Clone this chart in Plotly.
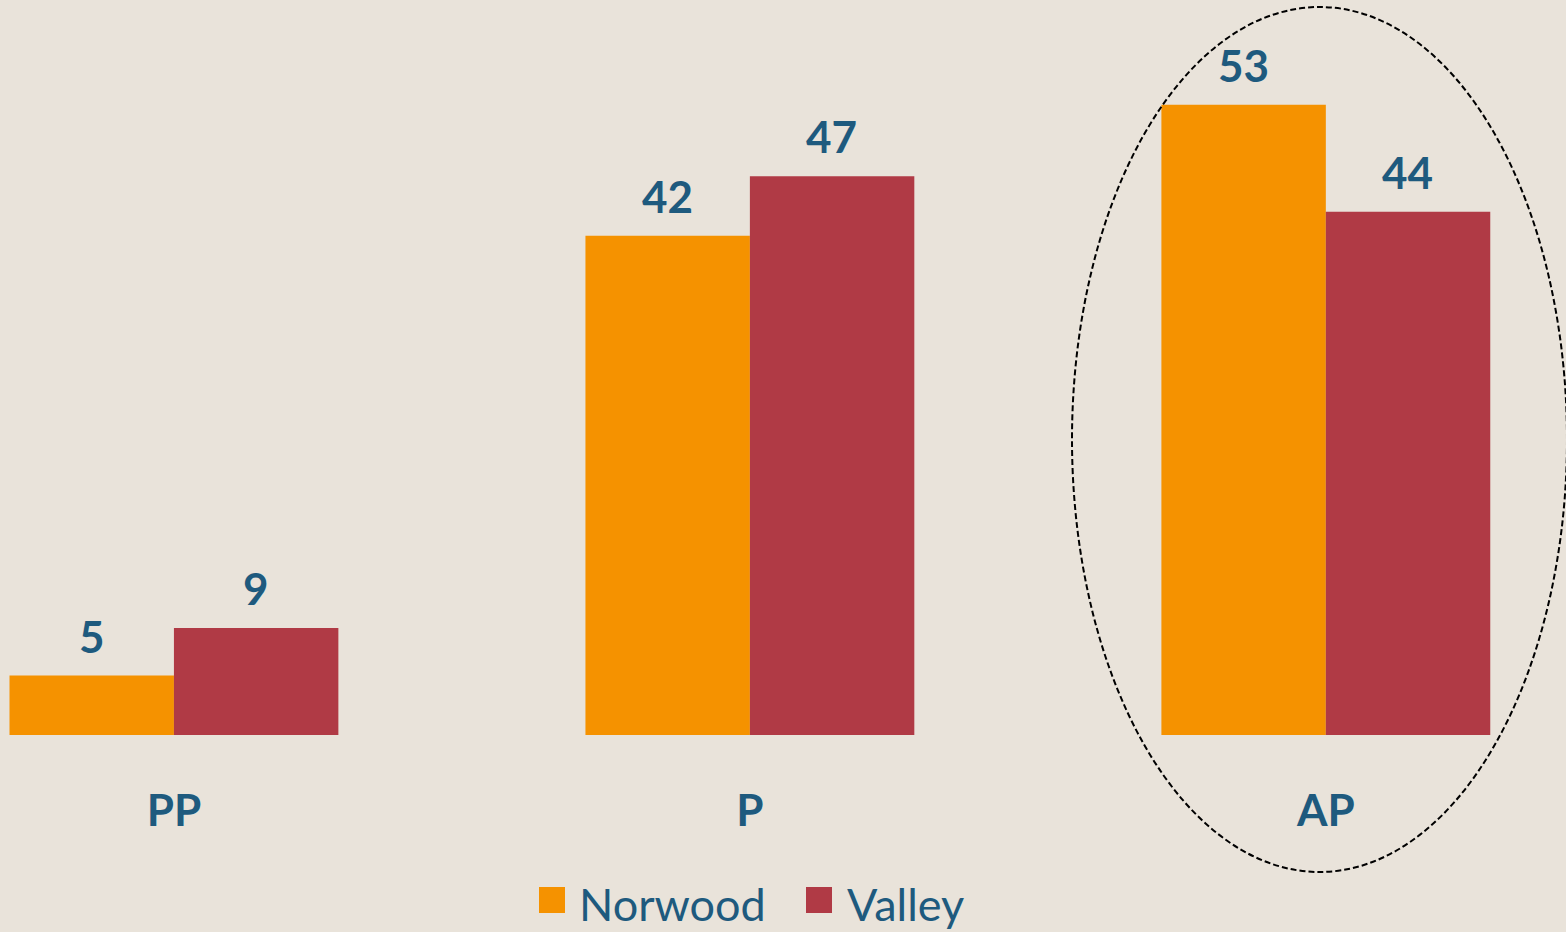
import plotly.graph_objects as go

categories = ["PP", "P", "AP"]
norwood = [5, 42, 53]
valley = [9, 47, 44]
series_names = ["Norwood", "Valley"]

ORANGE = "#F59200"
RED = "#B03A45"
TEXT = "#1E5A7E"
BG = "#E9E3DA"
FONT = "Lato"
W, H = 1566, 932
PLOT_H = 735


def px(x):
    return x / W


def py(y):
    return (PLOT_H - y) / PLOT_H


fig = go.Figure()
fig.add_trace(go.Bar(x=categories, y=norwood, name=series_names[0], marker_color=ORANGE,
                     marker_line_width=0))
fig.add_trace(go.Bar(x=categories, y=valley, name=series_names[1], marker_color=RED,
                     marker_line_width=0))

annotations = []
for i, c in enumerate(categories):
    for vals, shift in ((norwood, -82), (valley, 82)):
        annotations.append(dict(x=c, y=vals[i], xref="x", yref="y", text=f"<b>{vals[i]}</b>",
                                showarrow=False, xshift=shift, yanchor="bottom", yshift=12,
                                font=dict(family=FONT, size=44, color=TEXT)))

# legend drawn manually for larger swatches
shapes = []
legend_items = [(series_names[0], ORANGE, 539, 577), (series_names[1], RED, 806, 845)]
for name, col, sx, tx in legend_items:
    shapes.append(dict(type="rect", xref="paper", yref="paper", x0=px(sx), x1=px(sx + 26),
                       y0=py(913), y1=py(887), fillcolor=col, line=dict(width=0)))
    annotations.append(dict(x=px(tx), y=py(904), xref="paper", yref="paper", text=name,
                            showarrow=False, xanchor="left", yanchor="middle",
                            font=dict(family=FONT, size=45, color=TEXT)))

shapes.append(dict(type="circle", xref="paper", yref="paper", x0=px(1072), x1=px(1567),
                   y0=py(872), y1=py(7), line=dict(color="black", width=2, dash="6px,3px")))

fig.update_layout(
    width=W, height=H,
    margin=dict(l=0, r=0, t=0, b=H - PLOT_H),
    paper_bgcolor=BG, plot_bgcolor=BG,
    barmode="group", bargap=0.429, bargroupgap=0,
    xaxis=dict(range=[-0.302, 2.417], showgrid=False, zeroline=False, showline=False,
               ticks="", ticklabelstandoff=46,
               tickfont=dict(family=FONT, size=44, color=TEXT, weight="bold")),
    yaxis=dict(range=[0, 61.82], visible=False),
    annotations=annotations,
    shapes=shapes,
    showlegend=False,
)

fig.write_html("out.html", config={"displayModeBar": False},
               post_script="document.body.style.margin='0';document.body.style.overflow='hidden';")
